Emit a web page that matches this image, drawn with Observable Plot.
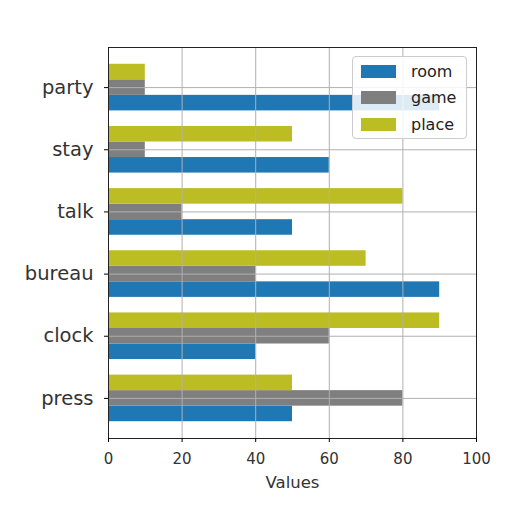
<!DOCTYPE html>
<html><head><meta charset="utf-8">
<script src="https://cdn.jsdelivr.net/npm/d3@7"></script>
<script src="https://cdn.jsdelivr.net/npm/@observablehq/plot@0.6"></script>
<style>
body{margin:0;background:#fff;font-family:"DejaVu Sans",sans-serif;}
#wrap{position:relative;width:512px;height:512px;}
#legend{position:absolute;left:352px;top:56px;width:115px;height:83px;border:1px solid #ccc;border-radius:4px;background:rgba(255,255,255,0.85);box-sizing:border-box;padding:1px 0 0 8px;}
.item{display:flex;align-items:center;height:26.5px;font-size:16px;color:#222;}
.sw{width:35px;height:13px;margin-right:15px;}
</style></head>
<body><div id="wrap"></div>
<script>
const categories = ["party","stay","talk","bureau","clock","press"];
const series = ["room","game","place"];
const colors = ["#1f77b4","#7f7f7f","#bcbd22"];
const room  = [90,60,50,90,40,50];
const game  = [10,10,20,40,60,80];
const place = [10,50,80,70,90,50];
const xTicks = [0,20,40,60,80,100];

const offsets = {room:0.25, game:0, place:-0.25};
const vals = {room, game, place};
const data = [];
series.forEach(s => categories.forEach((c,i) => {
  data.push({cat:c, series:s, pos:i+offsets[s], value:vals[s][i]});
}));

const chart = Plot.plot({
  width:512, height:512,
  marginLeft:108, marginRight:36, marginTop:47, marginBottom:74,
  style:{fontFamily:"DejaVu Sans, sans-serif", background:"transparent"},
  x:{domain:[0,100], ticks:xTicks, label:null},
  y:{domain:[-0.645,5.645], reverse:true, ticks:d3.range(categories.length), tickFormat:i=>categories[i], label:null},
  color:{domain:series, range:colors},
  marks:[
    Plot.rectX(data,{x1:0, x2:"value", y1:d=>d.pos-0.125, y2:d=>d.pos+0.125, fill:"series"}),
    Plot.gridX(xTicks,{stroke:"#b0b0b0", strokeOpacity:1, strokeWidth:1}),
    Plot.gridY(d3.range(categories.length),{stroke:"#b0b0b0", strokeOpacity:1, strokeWidth:1}),
    Plot.frame({stroke:"#222"}),
    Plot.axisX(xTicks,{tickSize:4, fontSize:15, fill:"#333", tickPadding:11}),
    Plot.axisY(d3.range(categories.length),{tickSize:4, fontSize:19.5, fill:"#333", tickPadding:11, tickFormat:i=>categories[i]}),
    Plot.text(["Values"],{frameAnchor:"bottom", dy:38, fontSize:16.5, fill:"#333", lineAnchor:"top"})
  ]
});
const wrap = document.getElementById("wrap");
wrap.appendChild(chart);
const lg = document.createElement("div");
lg.id="legend";
series.forEach((s,i)=>{
  const it=document.createElement("div");it.className="item";
  it.innerHTML=`<div class="sw" style="background:${colors[i]}"></div><span>${s}</span>`;
  lg.appendChild(it);
});
wrap.appendChild(lg);
</script></body></html>
